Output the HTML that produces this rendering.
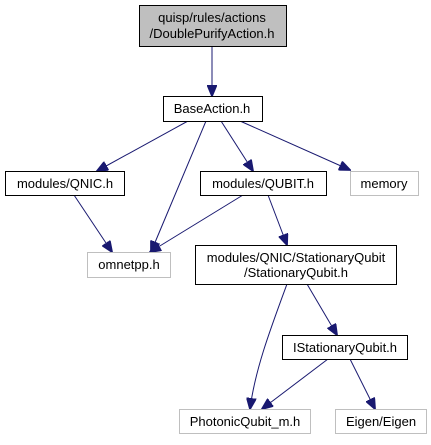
<!DOCTYPE html>
<html><head><style>body{margin:0;background:#fff}</style></head><body>
<svg width="431" height="440" xmlns="http://www.w3.org/2000/svg" font-family="Liberation Sans, sans-serif" font-size="13">
<defs><marker id="a" markerWidth="12" markerHeight="10" refX="11" refY="5" orient="auto" markerUnits="userSpaceOnUse"><path d="M0,0 L12,5 L0,10 z" fill="#191970" stroke="#191970"/></marker></defs>
<g stroke="#191970" stroke-width="1" fill="none" marker-end="url(#a)">
<path d="M212,46 L212,96"/>
<path d="M188,121 L97,171"/>
<path d="M206,121 L151,252"/>
<path d="M221,121 L253,171"/>
<path d="M240,121 L350,170"/>
<path d="M74,195 L112,252"/>
<path d="M243,195 L150,252"/>
<path d="M268,195 L287,245"/>
<path d="M287,284 C270,330 255,370 250,409"/>
<path d="M307,284 L337,335"/>
<path d="M328,359 L262,409"/>
<path d="M350,359 L375,409"/>
</g>
<g stroke-width="1">
<rect x="139.5" y="5.5" width="147" height="41" fill="#bfbfbf" stroke="#000"/>
<rect x="163.5" y="96.5" width="99" height="25" fill="#fff" stroke="#000"/>
<rect x="5.5" y="171.5" width="119" height="24" fill="#fff" stroke="#000"/>
<rect x="200.5" y="171.5" width="126" height="24" fill="#fff" stroke="#000"/>
<rect x="350.5" y="171.5" width="68" height="24" fill="#fff" stroke="#bfbfbf"/>
<rect x="87.5" y="252.5" width="83" height="25" fill="#fff" stroke="#bfbfbf"/>
<rect x="195.5" y="245.5" width="201" height="39" fill="#fff" stroke="#000"/>
<rect x="282.5" y="335.5" width="125" height="24" fill="#fff" stroke="#000"/>
<rect x="179.5" y="409.5" width="131" height="24" fill="#fff" stroke="#bfbfbf"/>
<rect x="335.5" y="409.5" width="91" height="24" fill="#fff" stroke="#bfbfbf"/>
</g>
<g fill="#000" text-anchor="middle">
<text x="212" y="22">quisp/rules/actions</text>
<text x="212" y="38">/DoublePurifyAction.h</text>
<text x="212" y="113">BaseAction.h</text>
<text x="65" y="188">modules/QNIC.h</text>
<text x="263" y="188">modules/QUBIT.h</text>
<text x="384" y="188">memory</text>
<text x="129" y="269">omnetpp.h</text>
<text x="296" y="262">modules/QNIC/StationaryQubit</text>
<text x="296" y="277">/StationaryQubit.h</text>
<text x="345" y="352">IStationaryQubit.h</text>
<text x="245" y="426">PhotonicQubit_m.h</text>
<text x="381" y="426">Eigen/Eigen</text>
</g>
</svg>
</body></html>
